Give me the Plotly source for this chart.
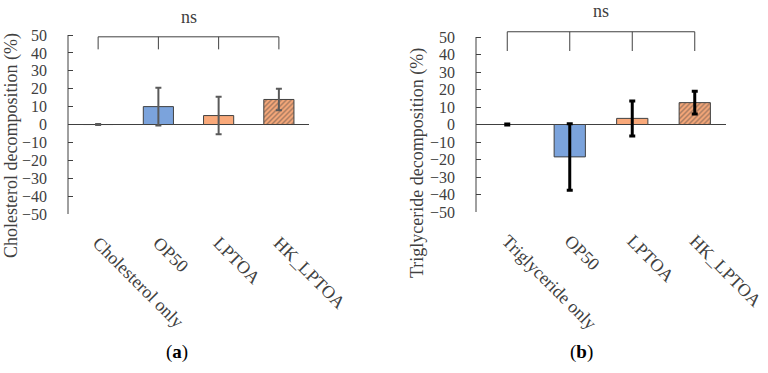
import plotly.graph_objects as go

# ---- data ----
cats_a = ["Cholesterol only", "OP50", "LPTOA", "HK_LPTOA"]
vals_a = [0.0, 10.0, 5.0, 14.0]
err_a = [0.3, 10.5, 10.5, 6.0]

cats_b = ["Triglyceride only", "OP50", "LPTOA", "HK_LPTOA"]
vals_b = [0.0, -18.5, 3.5, 12.5]
err_b = [0.3, 19.0, 10.0, 6.5]

yticks = [50, 40, 30, 20, 10, 0, -10, -20, -30, -40, -50]
ytick_text = ["50", "40", "30", "20", "10", "0", "\u221210", "\u221220", "\u221230", "\u221240", "\u221250"]

bar_colors = ["#7ba3dc", "#7ba3dc", "#f9a97a", "#f9a97a"]
pattern_shapes = ["", "", "", "/"]

FONT = "Liberation Serif"
TXT = "#404040"

fig = go.Figure()

fig.add_trace(go.Bar(
    x=cats_a, y=vals_a, xaxis="x", yaxis="y", width=0.5,
    marker=dict(color=bar_colors, line=dict(color="#404040", width=1),
                pattern=dict(shape=pattern_shapes, fgcolor="#8b3a14", size=3.5,
                             solidity=0.4, fillmode="overlay")),
    error_y=dict(type="data", array=err_a, color="#5a5a5a", thickness=2, width=3),
    showlegend=False))

fig.add_trace(go.Bar(
    x=cats_b, y=vals_b, xaxis="x2", yaxis="y2", width=0.5,
    marker=dict(color=bar_colors, line=dict(color="#404040", width=1),
                pattern=dict(shape=pattern_shapes, fgcolor="#8b3a14", size=3.5,
                             solidity=0.4, fillmode="overlay")),
    error_y=dict(type="data", array=err_b, color="#000000", thickness=3, width=3),
    showlegend=False))

xcommon = dict(showline=False, ticks="", tickangle=45, showgrid=False, zeroline=False,
               range=[-0.5, 3.5], tickfont=dict(family=FONT, size=18, color=TXT),
               ticklabelstandoff=14, automargin=False)
ycommon = dict(showline=False, ticks="inside", ticklen=5, tickcolor="#404040", tickwidth=1,
               showgrid=False, zeroline=True, zerolinecolor="#404040", zerolinewidth=1,
               tickvals=yticks, ticktext=ytick_text, ticklabelstandoff=20,
               tickfont=dict(family=FONT, size=16, color=TXT), automargin=False)

shapes = []
annotations = []

def bracket(xa, ya, top, bottom, ns_y):
    shapes.append(dict(type="line", xref=xa, yref=ya, x0=0, x1=3, y0=top, y1=top,
                       line=dict(color="#404040", width=1)))
    for i in range(4):
        shapes.append(dict(type="line", xref=xa, yref=ya, x0=i, x1=i, y0=bottom, y1=top,
                           line=dict(color="#404040", width=1)))
    annotations.append(dict(text="ns", xref=xa, yref=ya, x=1.5, y=ns_y, showarrow=False,
                            xanchor="center", yanchor="middle",
                            font=dict(family=FONT, size=18, color=TXT)))
    # y axis line from -50 to 50
    shapes.append(dict(type="line", xref=xa + " domain", yref=ya, x0=0, x1=0, y0=-50, y1=50,
                       line=dict(color="#404040", width=1)))

bracket("x", "y", 49, 42, 60)
bracket("x2", "y2", 53, 42, 65)

annotations.append(dict(text="Cholesterol decomposition (%)", xref="paper", yref="paper",
                        x=11/768, y=(373-146)/373, textangle=-90, showarrow=False,
                        xanchor="center", yanchor="middle",
                        font=dict(family=FONT, size=18, color=TXT)))
annotations.append(dict(text="Triglyceride decomposition (%)", xref="paper", yref="paper",
                        x=418/768, y=(373-163)/373, textangle=-90, showarrow=False,
                        xanchor="center", yanchor="middle",
                        font=dict(family=FONT, size=18, color=TXT)))
annotations.append(dict(text="(<b>a</b>)", xref="paper", yref="paper",
                        x=177/768, y=(373-352)/373, showarrow=False,
                        xanchor="center", yanchor="middle",
                        font=dict(family=FONT, size=19, color="#000")))
annotations.append(dict(text="(<b>b</b>)", xref="paper", yref="paper",
                        x=581/768, y=(373-352)/373, showarrow=False,
                        xanchor="center", yanchor="middle",
                        font=dict(family=FONT, size=19, color="#000")))

fig.update_layout(
    width=768, height=373,
    margin=dict(l=0, r=0, t=0, b=0),
    paper_bgcolor="white", plot_bgcolor="white",
    xaxis=dict(domain=[68/768, 309/768], anchor="y", **xcommon),
    yaxis=dict(domain=[(373-214)/373, (373-6.4)/373], anchor="x", range=[-50, 66], **ycommon),
    xaxis2=dict(domain=[476/768, 726/768], anchor="y2", **xcommon),
    yaxis2=dict(domain=[(373-212)/373, (373-5.5)/373], anchor="x2", range=[-50, 68], **ycommon),
    shapes=shapes, annotations=annotations,
    bargap=0.5,
)

fig.write_html("out.html")
